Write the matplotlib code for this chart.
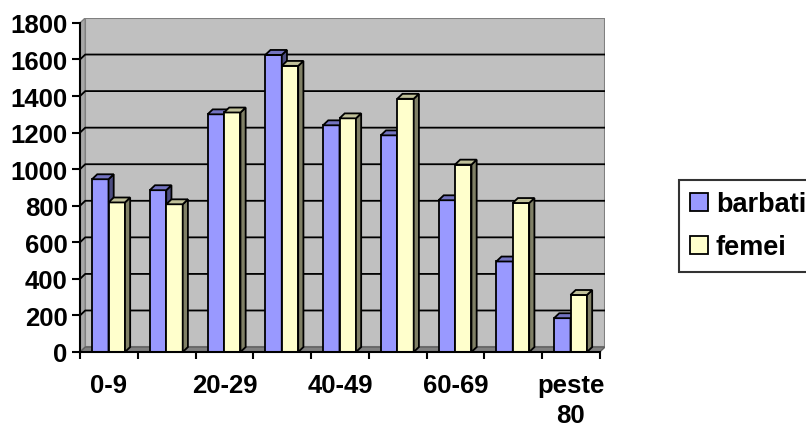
import matplotlib
matplotlib.use('Agg')
import matplotlib.pyplot as plt
from matplotlib.patches import Polygon, Patch

categories = ['0-9', '10-19', '20-29', '30-39', '40-49', '50-59', '60-69', '70-79', 'peste 80']
barbati = [945, 885, 1300, 1625, 1240, 1185, 830, 495, 185]
femei = [818, 808, 1310, 1565, 1278, 1385, 1025, 815, 312]

plt.rcParams['font.family'] = ['Liberation Sans', 'DejaVu Sans']
plt.rcParams['font.weight'] = 'bold'
fs = 18.5

fig = plt.figure(figsize=(8.06, 4.31), dpi=100)
ax = fig.add_axes([0.0993, 0.181, 0.6513, 0.775])

n = len(categories)
dx = 0.09      # depth offset in x units
dy = 27        # depth offset in y units
ymax = 1800
w = 0.285
off = 0.208

ax.set_xlim(0, n + dx)
ax.set_ylim(0, ymax + dy)

# back wall, side wall, floor
ax.add_patch(Polygon([(dx, dy), (n + dx, dy), (n + dx, ymax + dy), (dx, ymax + dy)],
                     closed=True, facecolor='#C0C0C0', edgecolor='#808080', lw=1.5, zorder=0))
ax.add_patch(Polygon([(0, 0), (dx, dy), (dx, ymax + dy), (0, ymax)],
                     closed=True, facecolor='#A8A8A8', edgecolor='#808080', lw=1, zorder=0))
ax.add_patch(Polygon([(0, 0), (n, 0), (n + dx, dy), (dx, dy)],
                     closed=True, facecolor='#808080', edgecolor='#606060', lw=1, zorder=0))

yt = list(range(0, ymax + 1, 200))
for v in yt[1:-1]:
    ax.plot([0, dx, n + dx], [v, v + dy, v + dy], color='black', lw=1.3, zorder=1)


def bar3d(x, h, front, side, top):
    ax.add_patch(Polygon([(x, 0), (x + w, 0), (x + w, h), (x, h)], closed=True,
                         facecolor=front, edgecolor='black', lw=1.3, zorder=3))
    ax.add_patch(Polygon([(x + w, 0), (x + w + dx, dy), (x + w + dx, h + dy), (x + w, h)],
                         closed=True, facecolor=side, edgecolor='black', lw=1.3, zorder=3))
    ax.add_patch(Polygon([(x, h), (x + w, h), (x + w + dx, h + dy), (x + dx, h + dy)],
                         closed=True, facecolor=top, edgecolor='black', lw=1.3, zorder=3))


for i in range(n):
    bar3d(i + off, barbati[i], '#9999FF', '#4C4C80', '#7373C0')
    bar3d(i + off + w, femei[i], '#FFFFCC', '#808066', '#C0C099')

for s in ['top', 'right']:
    ax.spines[s].set_visible(False)
ax.spines['left'].set_bounds(0, ymax)
ax.spines['bottom'].set_bounds(0, n)
ax.spines['left'].set_linewidth(1.5)
ax.spines['bottom'].set_linewidth(1.5)
ax.spines['left'].set_zorder(5)
ax.spines['bottom'].set_zorder(5)

ax.set_yticks(yt)
ax.set_yticklabels([str(v) for v in yt], fontsize=fs, fontweight='bold')
ax.tick_params(axis='y', direction='out', length=6, width=1.5, pad=3)

ax.set_xticks(range(n + 1))
ax.set_xticklabels([])
ax.tick_params(axis='x', which='major', direction='out', length=5, width=1.5)
shown = list(range(0, n, 2))
ax.set_xticks([i + 0.5 for i in shown], minor=True)
ax.set_xticklabels([categories[i].replace(' ', '\n') for i in shown], minor=True,
                   fontsize=fs, fontweight='bold', linespacing=1.3)
ax.tick_params(axis='x', which='minor', length=0, pad=15)

handles = [Patch(facecolor='#9999FF', edgecolor='black', lw=1.3),
           Patch(facecolor='#FFFFCC', edgecolor='black', lw=1.3)]
leg = fig.legend(handles, ['barbati', 'femei'], loc='upper left',
                 bbox_to_anchor=(0.842, 0.58), bbox_transform=fig.transFigure,
                 fancybox=False, borderaxespad=0, handlelength=0.65, handleheight=0.65,
                 handletextpad=0.3, labelspacing=0.62, borderpad=0.42,
                 prop={'size': 19.5, 'weight': 'bold'})
leg.get_frame().set_edgecolor('black')
leg.get_frame().set_linewidth(1.5)

fig.savefig('out.png', dpi=100)
